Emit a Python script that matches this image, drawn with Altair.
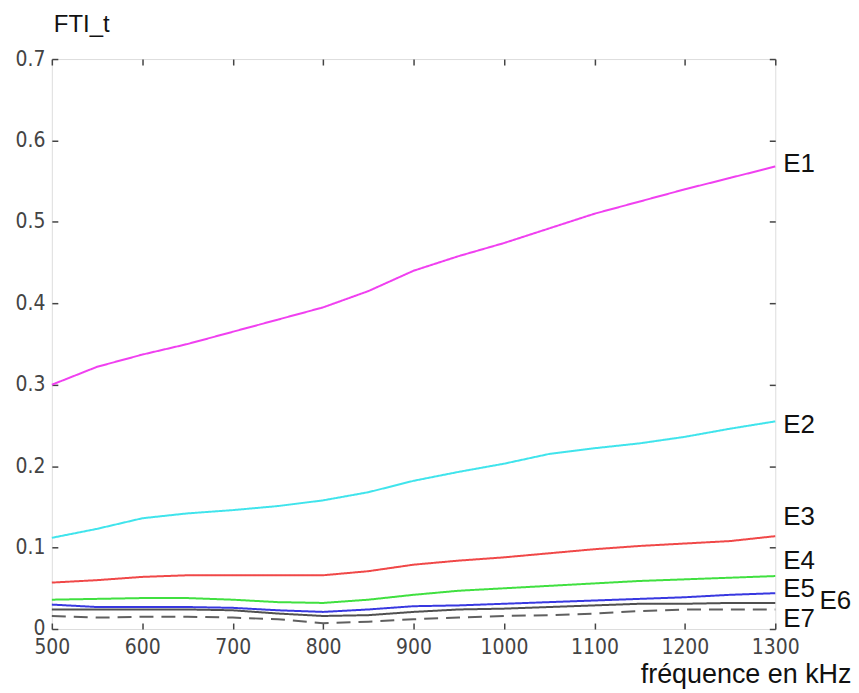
import altair as alt
import pandas as pd

freqs = [500, 550, 600, 650, 700, 750, 800, 850, 900, 950, 1000, 1050, 1100, 1150, 1200, 1250, 1300]

E1 = [0.300, 0.322, 0.337, 0.350, 0.365, 0.380, 0.395, 0.415, 0.440, 0.458, 0.474, 0.492, 0.510, 0.525, 0.540, 0.554, 0.568]
E2 = [0.112, 0.123, 0.136, 0.142, 0.146, 0.151, 0.158, 0.168, 0.182, 0.193, 0.203, 0.215, 0.222, 0.228, 0.236, 0.246, 0.255]
E3 = [0.057, 0.060, 0.064, 0.066, 0.066, 0.066, 0.066, 0.071, 0.079, 0.084, 0.088, 0.093, 0.098, 0.102, 0.105, 0.108, 0.114]
E4 = [0.036, 0.037, 0.038, 0.038, 0.036, 0.033, 0.032, 0.036, 0.042, 0.047, 0.050, 0.053, 0.056, 0.059, 0.061, 0.063, 0.065]
E5 = [0.030, 0.027, 0.027, 0.027, 0.026, 0.023, 0.021, 0.024, 0.028, 0.029, 0.031, 0.033, 0.035, 0.037, 0.039, 0.042, 0.044]
E6 = [0.024, 0.024, 0.024, 0.024, 0.023, 0.019, 0.016, 0.017, 0.021, 0.024, 0.025, 0.027, 0.029, 0.031, 0.031, 0.032, 0.032]
E7 = [0.016, 0.014, 0.015, 0.015, 0.014, 0.012, 0.007, 0.009, 0.012, 0.014, 0.016, 0.017, 0.019, 0.022, 0.024, 0.024, 0.024]

series_names = ["E1", "E2", "E3", "E4", "E5", "E6", "E7"]
series_values = [E1, E2, E3, E4, E5, E6, E7]
series_colors = ["#f040f0", "#40e4ec", "#f04848", "#40e040", "#3838e0", "#505050", "#606060"]
series_dash = ["solid", "solid", "solid", "solid", "solid", "solid", "dashed"]

label_names = ["E1", "E2", "E3", "E4", "E5", "E6", "E7"]
label_f = [1300, 1300, 1300, 1300, 1300, 1340, 1300]
label_v = [0.571, 0.251, 0.137, 0.083, 0.049, 0.034, 0.012]

x_ticks = [500, 600, 700, 800, 900, 1000, 1100, 1200, 1300]
y_ticks = [0, 0.1, 0.2, 0.3, 0.4, 0.5, 0.6, 0.7]

rows = []
for name, vals, dash in zip(series_names, series_values, series_dash):
    for f, v in zip(freqs, vals):
        rows.append({"f": f, "v": v, "serie": name, "dash": dash})
df = pd.DataFrame(rows)
labels_df = pd.DataFrame({"f": label_f, "v": label_v, "label": label_names})

font = "Liberation Sans Narrow, DejaVu Sans Condensed, Liberation Sans, Arial"

xscale = alt.Scale(domain=[500, 1300], nice=False, zero=False)
yscale = alt.Scale(domain=[0, 0.7], nice=False, zero=False)

lines = alt.Chart(df).mark_line(strokeWidth=2).encode(
    x=alt.X("f:Q", scale=xscale,
            axis=alt.Axis(values=x_ticks, orient="bottom", offset=-6, tickSize=6, domain=False,
                          grid=False, labelPadding=8, labelFont=font, labelFontSize=21,
                          labelColor="#444", tickColor="#444", tickWidth=1.5,
                          labelFlush=False, format="d",
                          title="fréquence en kHz", titleFont="Liberation Sans",
                          titleFontSize=27, titleFontWeight="normal", titleColor="#111",
                          titleAnchor="end", titleAlign="right", titleX=802, titleY=60,
                          titleBaseline="alphabetic")),
    y=alt.Y("v:Q", scale=yscale,
            axis=alt.Axis(values=y_ticks, orient="left", offset=-6, tickSize=6, domain=False,
                          grid=False, labelPadding=7, labelFont=font, labelFontSize=21,
                          labelColor="#444", tickColor="#444", tickWidth=1.5,
                          labelFlush=False, format="~g", title=None)),
    color=alt.Color("serie:N", scale=alt.Scale(domain=series_names, range=series_colors), legend=None),
    strokeDash=alt.StrokeDash("dash:N", scale=alt.Scale(domain=["solid", "dashed"], range=[[1, 0], [14, 8]]), legend=None),
    detail="serie:N",
)

ticks_other = alt.Chart(df).mark_point(opacity=0).encode(
    x=alt.X("f:Q", scale=xscale,
            axis=alt.Axis(values=x_ticks, orient="top", offset=-6, tickSize=6, domain=False,
                          grid=False, labels=False, tickColor="#444", tickWidth=1.5, title=None)),
    y=alt.Y("v:Q", scale=yscale,
            axis=alt.Axis(values=y_ticks, orient="right", offset=-6, tickSize=6, domain=False,
                          grid=False, labels=False, tickColor="#444", tickWidth=1.5, title=None)),
)

texts = alt.Chart(labels_df).mark_text(
    align="left", baseline="middle", dx=8, font="Liberation Sans", fontSize=26, color="#111"
).encode(
    x=alt.X("f:Q", scale=xscale, axis=None),
    y=alt.Y("v:Q", scale=yscale, axis=None),
    text="label:N",
)

chart = alt.layer(lines, ticks_other, texts).resolve_scale(
    x="independent", y="independent", color="independent", strokeDash="independent"
).properties(
    width=726,
    height=572,
    autosize=alt.AutoSizeParams(type="none"),
    padding={"left": 44, "top": 50, "right": 76, "bottom": 61},
    title=alt.TitleParams("FTI_t", anchor="start", frame="group", font="Liberation Sans",
                          fontSize=24, fontWeight="normal", color="#111", offset=11, dx=2),
).configure_view(
    stroke="#444", strokeWidth=1.5
).configure(background="white")

chart.save("out.html", embed_options={"renderer": "svg", "actions": False})
